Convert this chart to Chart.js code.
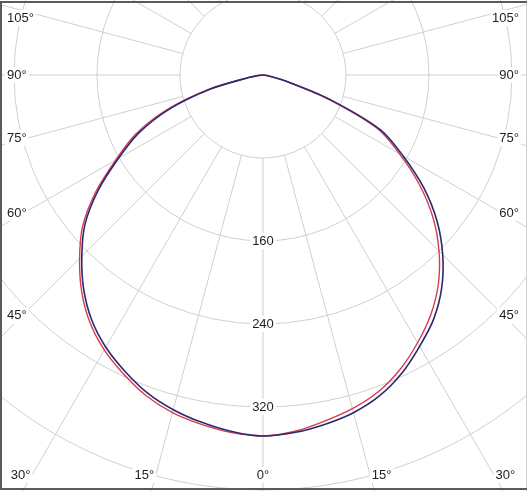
<!DOCTYPE html>
<html>
<head>
  <meta charset="UTF-8" />
  <title>Lichtverteilung</title>
  <script src="https://cdn.jsdelivr.net/npm/chart.js"></script>
  <style>
    body { margin: 0; background: #fff; }
    #wrap { width: 527px; height: 491px; position: relative; }
  </style>
</head>
<body>
  <div id="wrap"><canvas id="polarChart"></canvas></div>

  <script>
    // angles from nadir (deg) and intensities (cd)
    const gammaDeg  = [0, 5, 10, 15, 20, 25, 30, 35, 40, 45, 50, 55, 60, 65, 70, 75, 80, 85, 90];
    const redLeft   = [348, 346, 342, 337, 329, 318, 306, 291, 272, 250, 227, 197, 164, 136, 100, 56, 15, 4, 0];
    const redRight  = [348, 345, 339, 333, 325, 313, 298, 282, 263, 240, 214, 184, 152, 121, 65, 22, 6, 1, 0];
    const blueLeft  = [348, 345, 340, 334, 326, 315, 303, 288, 269, 247, 224, 194, 161, 132, 96, 53, 14, 4, 0];
    const blueRight = [348, 346, 342, 337, 329, 317, 302, 287, 268, 245, 219, 189, 156, 125, 68, 24, 7, 1, 0];

    const ringValues   = [80, 160, 240, 320, 400, 480];
    const valueLabels  = [160, 240, 320];
    const spokeAngles  = [0, 15, 30, 45, 60, 75, 90, 105, 120, 135, 150, 165, 180, 195, 210, 225, 240, 255, 270, 285, 300, 315, 330, 345];
    const sideLabels   = [105, 90, 75, 60, 45];
    const bottomLabels = [30, 15, 0, 15, 30];
    const bottomSides  = [-1, -1, 0, 1, 1];

    const FONT = '13px "Liberation Sans", Arial, sans-serif';

    function toPoints(left, right) {
      const pts = [];
      for (let i = gammaDeg.length - 1; i >= 0; i--) {
        const a = gammaDeg[i] * Math.PI / 180;
        pts.push({ x: -left[i] * Math.sin(a), y: -left[i] * Math.cos(a) });
      }
      for (let i = 1; i < gammaDeg.length; i++) {
        const a = gammaDeg[i] * Math.PI / 180;
        pts.push({ x: right[i] * Math.sin(a), y: -right[i] * Math.cos(a) });
      }
      return pts;
    }

    function label(ctx, text, x, y, align) {
      ctx.font = FONT;
      const w = ctx.measureText(text).width;
      let left = x;
      if (align === 'center') left = x - w / 2;
      if (align === 'right') left = x - w;
      ctx.fillStyle = '#fff';
      ctx.fillRect(left - 2, y - 8, w + 4, 16);
      ctx.fillStyle = '#1e1e1e';
      ctx.textAlign = 'left';
      ctx.textBaseline = 'middle';
      ctx.fillText(text, left, y);
    }

    const polarGrid = {
      id: 'polarGrid',
      beforeDatasetsDraw(chart) {
        const ctx = chart.ctx;
        const xs = chart.scales.x, ys = chart.scales.y;
        const cx = xs.getPixelForValue(0), cy = ys.getPixelForValue(0);
        const px = v => xs.getPixelForValue(v) - cx;
        ctx.save();
        ctx.strokeStyle = '#cfcfcf';
        ctx.lineWidth = 1;
        ringValues.forEach(r => {
          ctx.beginPath();
          ctx.arc(cx, cy, px(r), 0, Math.PI * 2);
          ctx.stroke();
        });
        const r0 = px(ringValues[0]), r1 = px(1000);
        spokeAngles.forEach(g => {
          const a = g * Math.PI / 180;
          ctx.beginPath();
          ctx.moveTo(cx - r0 * Math.sin(a), cy + r0 * Math.cos(a));
          ctx.lineTo(cx - r1 * Math.sin(a), cy + r1 * Math.cos(a));
          ctx.stroke();
        });

        // intensity labels on the 0 deg axis
        valueLabels.forEach(v => label(ctx, String(v), cx, ys.getPixelForValue(-v), 'center'));

        // angle labels at left and right edges
        const d = 234;
        sideLabels.forEach(g => {
          const a = g * Math.PI / 180;
          let y = ys.getPixelForValue(-d * Math.cos(a) / Math.sin(a)) - (g === 90 ? 0 : 2);
          y = Math.max(y, 18);
          label(ctx, g + '°', chart.chartArea.left + 7, y, 'left');
          label(ctx, g + '°', chart.chartArea.right - 8, y, 'right');
        });

        // angle labels at the bottom edge
        const yb = chart.chartArea.bottom - 16;
        const depth = ys.getValueForPixel(cy) - ys.getValueForPixel(yb);
        bottomLabels.forEach((g, i) => {
          const a = g * Math.PI / 180;
          const x = xs.getPixelForValue(bottomSides[i] * depth * Math.tan(a)) + bottomSides[i] * 11.5;
          label(ctx, g + '°', x, yb, 'center');
        });
        ctx.restore();
      },
      afterDraw(chart) {
        const ctx = chart.ctx;
        const W = chart.width, H = chart.height;
        ctx.save();
        ctx.strokeStyle = '#d0d0d0';
        ctx.lineWidth = 1;
        ctx.beginPath();
        ctx.moveTo(W - 0.5, 0);
        ctx.lineTo(W - 0.5, H);
        ctx.stroke();
        ctx.strokeStyle = '#5a5a5a';
        ctx.lineWidth = 2;
        ctx.beginPath();
        ctx.moveTo(W, 2);
        ctx.lineTo(1, 2);
        ctx.lineTo(1, H - 2);
        ctx.lineTo(W, H - 2);
        ctx.stroke();
        ctx.restore();
      }
    };

    const ctx = document.getElementById('polarChart').getContext('2d');

    new Chart(ctx, {
      type: 'scatter',
      data: {
        datasets: [
          {
            label: 'C90-C270',
            data: toPoints(blueLeft, blueRight),
            showLine: true,
            borderColor: '#2c2872',
            borderWidth: 1.6,
            pointRadius: 0,
            tension: 0.3,
            fill: false
          },
          {
            label: 'C0-C180',
            data: toPoints(redLeft, redRight),
            showLine: true,
            borderColor: '#d63c4c',
            borderWidth: 1.4,
            pointRadius: 0,
            tension: 0.3,
            fill: false
          }
        ]
      },
      options: {
        responsive: true,
        maintainAspectRatio: false,
        animation: false,
        layout: { padding: 0 },
        plugins: {
          legend: { display: false },
          tooltip: { enabled: false }
        },
        scales: {
          x: { type: 'linear', min: -253.5, max: 254.5, display: false },
          y: { type: 'linear', min: -401, max: 72.3, display: false }
        }
      },
      plugins: [polarGrid]
    });
  </script>
</body>
</html>
